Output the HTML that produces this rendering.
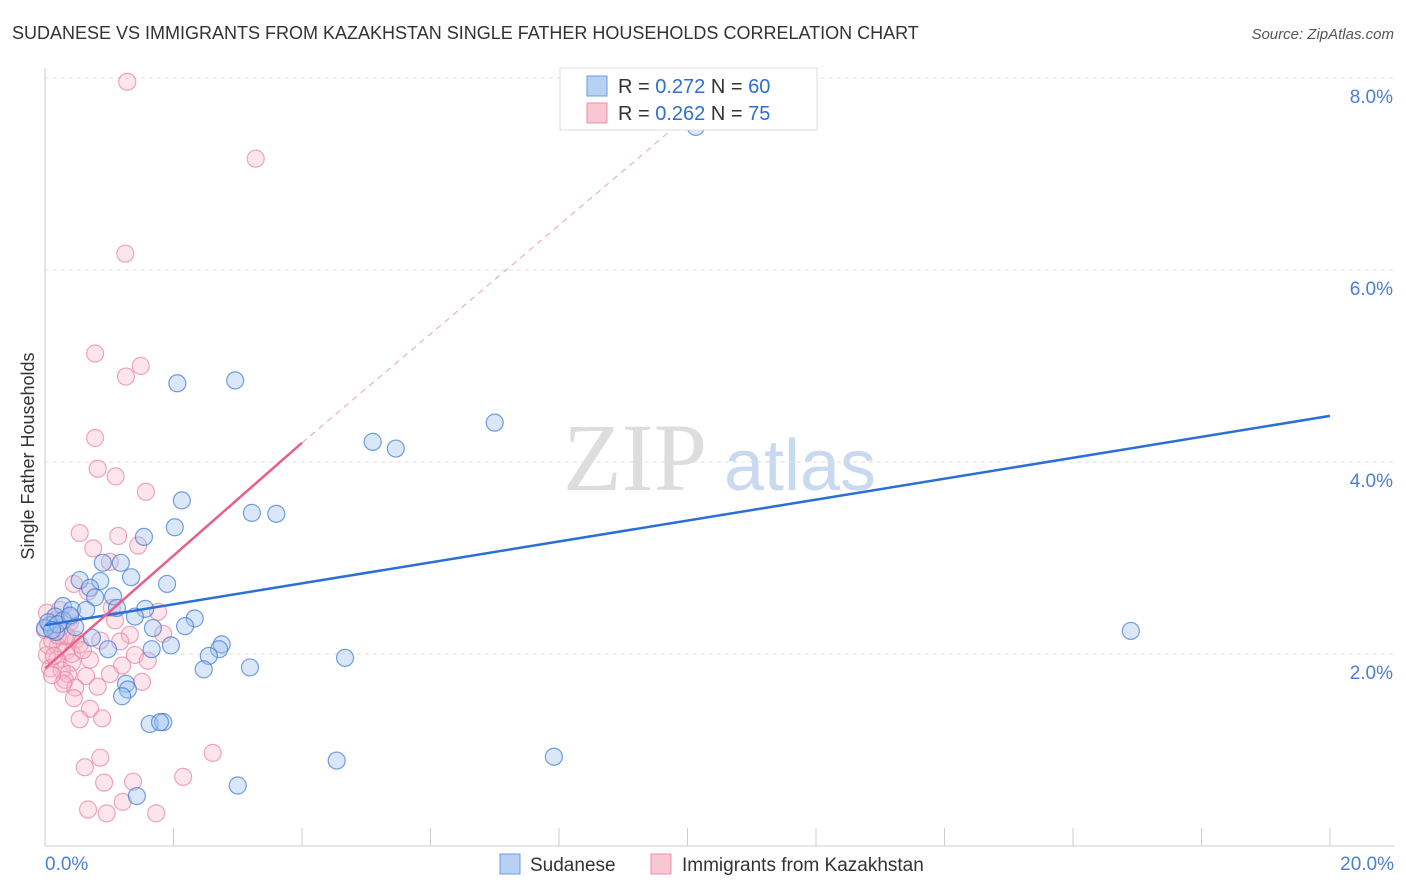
<!DOCTYPE html>
<html><head><meta charset="utf-8"><style>
body{margin:0;background:#fff;font-family:"Liberation Sans",sans-serif;}
svg{display:block}
</style></head><body>
<svg id="chart" width="1406" height="892" xmlns="http://www.w3.org/2000/svg">
<text x="12" y="39" font-size="18" fill="#333">SUDANESE VS IMMIGRANTS FROM KAZAKHSTAN SINGLE FATHER HOUSEHOLDS CORRELATION CHART</text>
<text x="1394" y="39" font-size="15" fill="#555" text-anchor="end" font-style="italic">Source: ZipAtlas.com</text>
<text transform="translate(34,456) rotate(-90)" font-size="18" fill="#333" text-anchor="middle">Single Father Households</text>
<g id="watermark">
<text x="635" y="490" font-size="96" fill="#ddd" font-family="Liberation Serif,serif" text-anchor="middle">ZIP</text>
<text x="800" y="490" font-size="72" fill="#c9d9f0" text-anchor="middle">atlas</text>
</g>
<g id="grid"></g><g id="ticks"></g><g id="marks"></g><g id="lines"></g>
<g>
<rect x="560" y="68" width="257" height="62" fill="#fff" stroke="#ddd"/>
<rect x="587" y="76" width="20" height="20" fill="#b8d0f3" stroke="#6a9be0"/>
<rect x="587" y="103" width="20" height="20" fill="#f9c6d4" stroke="#e890aa"/>
<text x="618" y="93" font-size="20" fill="#333">R = <tspan fill="#2b6fd6">0.272</tspan>   N = <tspan fill="#2b6fd6">60</tspan></text>
<text x="618" y="120" font-size="20" fill="#333">R = <tspan fill="#2b6fd6">0.262</tspan>   N = <tspan fill="#2b6fd6">75</tspan></text>
</g>
<g>
<rect x="500" y="854" width="20" height="20" fill="#b8d0f3" stroke="#6a9be0"/>
<text x="530" y="871" font-size="19" fill="#333">Sudanese</text>
<rect x="651" y="854" width="20" height="20" fill="#f9c6d4" stroke="#e890aa"/>
<text x="682" y="871" font-size="19" fill="#333">Immigrants from Kazakhstan</text>
</g>
</svg>
<script>
const NS="http://www.w3.org/2000/svg";
const xTicks=[0,2,4,6,8,10,12,14,16,18,20];
const yTicks=[2,4,6,8];
const yTickLabels=["2.0%","4.0%","6.0%","8.0%"];
const xEndLabels=["0.0%","20.0%"];
const sudX=[10.13,2.06,2.96,7.0,5.1,5.46,2.13,3.22,3.6,2.02,1.54,0.9,1.18,1.9,1.34,0.54,0.86,0.7,1.06,0.78,0.28,0.42,1.56,0.64,1.12,1.4,2.33,0.16,0.28,0.08,0.47,1.68,2.18,0.17,0.73,2.75,1.96,0.98,1.66,2.71,2.55,3.19,4.67,2.47,1.26,1.29,1.2,1.63,1.84,1.79,4.54,7.92,1.43,3.0,16.9,0,0.05,0.2,0.11,0.39];
const sudY=[7.49,4.82,4.85,4.41,4.21,4.14,3.6,3.47,3.46,3.32,3.22,2.95,2.95,2.73,2.8,2.77,2.76,2.69,2.6,2.59,2.5,2.46,2.47,2.46,2.48,2.39,2.37,2.39,2.35,2.30,2.28,2.27,2.29,2.23,2.17,2.10,2.09,2.05,2.05,2.05,1.98,1.86,1.96,1.84,1.69,1.63,1.56,1.27,1.29,1.29,0.89,0.93,0.52,0.63,2.24,2.27,2.33,2.31,2.25,2.4];
const kazX=[1.28,3.28,1.25,0.78,1.26,1.49,0.78,0.82,1.1,1.57,0.54,0.75,1.14,1.45,0.45,0.67,1.01,1.04,1.76,0.03,0.16,0.39,0.23,0.31,0.48,1.32,1.84,0.11,0.2,0.33,1.17,1.4,0.03,0.19,0.7,0.42,0.08,0.26,0.36,1.2,1.6,0.64,1.01,0.31,0.47,0.82,1.51,0.28,0.45,0.7,0.54,0.89,2.61,0.86,0.62,2.15,1.37,0.92,0.67,1.21,0.96,1.73,0,0.05,0.14,0.23,0.42,0.54,0.34,0.11,0.86,1.09,0.2,0.39,0.59];
const kazY=[7.96,7.16,6.17,5.13,4.89,5.0,4.25,3.93,3.85,3.69,3.26,3.1,3.23,3.13,2.73,2.65,2.96,2.48,2.44,2.43,2.35,2.33,2.27,2.18,2.15,2.2,2.21,2.14,2.08,2.03,2.13,1.99,1.99,1.94,1.94,1.91,1.85,1.83,1.79,1.88,1.93,1.77,1.79,1.73,1.65,1.66,1.71,1.69,1.54,1.43,1.32,1.33,0.97,0.92,0.82,0.72,0.67,0.66,0.38,0.46,0.34,0.34,2.25,2.09,1.98,2.46,2.0,2.1,2.19,1.78,2.14,2.35,2.19,2.38,2.04];
const sudTrend=[2.30,4.48];
const kazTrend=[1.85,4.2,7.6];
const X=v=>45+v/20*1285, Y=v=>846-v*96;
const g=id=>document.getElementById(id);
function mk(tag,attrs,parent){const e=document.createElementNS(NS,tag);for(const k in attrs)e.setAttribute(k,attrs[k]);parent.appendChild(e);return e;}
const grid=g('grid'),ticks=g('ticks'),marks=g('marks'),lines=g('lines');
let ax=mk('line',{x1:45,y1:68,x2:45,y2:846,stroke:'#ccc'},ticks);


let bx=mk('line',{x1:45,y1:846,x2:1394,y2:846,stroke:'#ccc'},ticks);


yTicks.forEach((v,i)=>{
 const l=mk('line',{x1:45,x2:1394,y1:Y(v),y2:Y(v),stroke:'#ddd','stroke-dasharray':'4,4'},grid);
 
 
 const t=mk('text',{x:1393,y:Y(v)+25,'font-size':19,fill:'#4a7fd6','text-anchor':'end'},ticks);
 t.textContent=yTickLabels[i];
 
 
});
xTicks.forEach(v=>{if(v===0)return;
 const l=mk('line',{x1:X(v),x2:X(v),y1:828,y2:846,stroke:'#ccc'},ticks);
 
 
});
const t0=mk('text',{x:45,y:870,'font-size':19,fill:'#4a7fd6'},ticks);t0.textContent=xEndLabels[0];


const t1=mk('text',{x:1394,y:870,'font-size':19,fill:'#4a7fd6','text-anchor':'end'},ticks);t1.textContent=xEndLabels[1];


kazX.forEach((v,i)=>{const c=mk('circle',{cx:X(v),cy:Y(kazY[i]),r:8.5,fill:'rgba(248,180,200,0.35)',stroke:'rgba(232,130,160,0.7)','stroke-width':1.2},marks);
 
 });
sudX.forEach((v,i)=>{const c=mk('circle',{cx:X(v),cy:Y(sudY[i]),r:8.5,fill:'rgba(160,195,240,0.4)',stroke:'rgba(60,120,210,0.7)','stroke-width':1.2},marks);
 
 });
const sl=mk('line',{x1:X(0),y1:Y(sudTrend[0]),x2:X(20),y2:Y(sudTrend[1]),stroke:'#2b6fd6','stroke-width':2.5},lines);


const kl=mk('line',{x1:X(0),y1:Y(kazTrend[0]),x2:X(4),y2:Y(kazTrend[1]),stroke:'#e8608a','stroke-width':2.5},lines);


const kd=mk('line',{x1:X(4),y1:Y(kazTrend[1]),x2:X(10),y2:Y(kazTrend[2]),stroke:'#e8a0b8','stroke-width':1,'stroke-dasharray':'6,5'},lines);


</script>
</body></html>
